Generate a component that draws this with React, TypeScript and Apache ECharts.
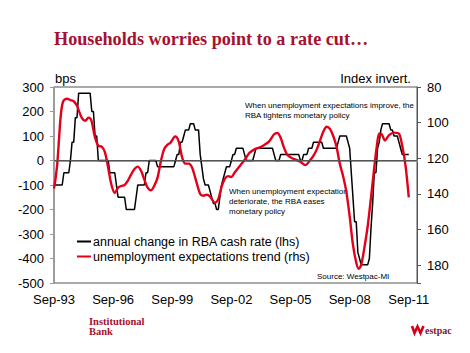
import React, { useEffect, useRef } from 'react';
import * as echarts from 'echarts';

// x = months since Sep-1993
const X_TICK_LABELS = ['Sep-93', 'Sep-96', 'Sep-99', 'Sep-02', 'Sep-05', 'Sep-08', 'Sep-11'];
const LEFT_TICKS = [-500, -400, -300, -200, -100, 0, 100, 200, 300];
const RIGHT_TICKS = [80, 100, 120, 140, 160, 180];

// annual change in RBA cash rate (bps), monthly from Sep-93 to Sep-11
const RBA_CHANGE = [
  -100, -100, -100, -100, -100, -100, -50, -50, -50, -50, 0, 75, 75, 175, 175, 275,
  275, 275, 275, 275, 275, 275, 275, 200, 200, 100, 100, 0, 0, 0, 0, 0,
  0, 0, -50, -50, -50, -50, -100, -150, -150, -150, -150, -150, -200, -200, -200, -200,
  -200, -200, -150, -100, -100, -100, -100, -100, -50, -50, 0, 0, 0, 0,
  0, -25, -25, -25, -25, -25, -25, -25, -25, -25, -25, -25, 0, 25, 25, 75,
  75, 100, 125, 125, 125, 150, 150, 150, 125, 125, 125, 25, -25, -75, -100, -100,
  -100, -125, -150, -175, -175, -200, -200, -150, -100, -75, -50, -25, -25, -25, 0, 25,
  25, 50, 50, 50, 50, 50, 25, 0, 0, 0, 0, 0, 25, 50, 50, 50,
  50, 50, 50, 50, 50, 50, 50, 50, 25, 0, 0, 0, 25, 25, 25, 25,
  25, 25, 25, 25, 25, 25, 25, 25, 0, 0, 25, 25, 25, 50, 50, 50,
  75, 75, 75, 75, 75, 75, 50, 50, 50, 50, 50, 50, 50, 50, 50, 75,
  100, 100, 100, 100, 100, 75, 50, -50, -150, -250, -250, -375, -400, -425, -425, -425,
  -425, -425, -400, -275, -175, -50, -50, 50, 75, 125, 150, 150, 150, 150, 150, 125,
  125, 100, 100, 100, 75, 50, 25, 25, 25, 25, 25,
];

// unemployment expectations trend (index, rhs inverted): [month since Sep-93, value]
const UNEMP_TREND: [number, number][] = [
  [0, 137], [1, 131], [2, 123], [3, 110], [4, 97], [5, 90], [6, 87.5], [8, 86.6], [10, 87.3],
  [12, 88], [14, 90.5], [15, 93], [17, 97.5], [19, 99], [21, 97.2], [22, 97.6], [23, 99.5],
  [25, 108.5], [27, 113], [29, 113.5], [31, 116.5], [33, 125.5], [35, 135], [37, 139.5],
  [39, 136.5], [41, 135.5], [43, 135], [45, 132.5], [47, 129], [49, 126], [51, 124.7],
  [53, 127], [55, 132], [57, 136.5], [59, 138], [61, 135.5], [63, 131], [65, 122], [67, 115],
  [69, 112.5], [71, 111.2], [73, 108.3], [74, 107.8], [76, 110.8], [78, 119.5], [80, 123],
  [82, 123], [84, 125], [86, 131], [89, 140], [91, 141], [93, 140.5], [95, 141.5], [98, 145],
  [100, 143], [102, 136], [104, 131.5], [106, 130], [108, 130.5], [110, 128], [113, 124.5],
  [116, 121], [119, 117], [122, 115], [125, 114], [128, 112.5], [131, 110.5], [134, 106.5],
  [136, 105.8], [138, 108.5], [140, 114], [142, 118], [145, 120], [148, 121], [150, 122],
  [153, 123.8], [156, 121], [158, 118.5], [160, 115], [162, 110], [164, 105], [166, 102.3],
  [168, 103.5], [170, 107.5], [172, 113.5], [174, 123], [176, 130], [178, 139], [180, 152.5],
  [182, 168.5], [184, 178.5], [185.5, 182], [187, 180], [189, 170], [191, 158], [193, 142],
  [195, 125], [196.5, 113.5], [198, 106], [199.5, 106.5], [201.5, 110], [204, 107],
  [207, 105.6], [210, 106.2], [212, 113], [214, 124], [216, 142],
];

const SANS = '"Liberation Sans", Arial, sans-serif';
const SERIF = '"Liberation Serif", "Times New Roman", serif';
const DARK_RED = '#A5112F';

export default function App() {
  const ref = useRef<HTMLDivElement>(null);
  useEffect(() => {
    document.body.style.margin = '0';
    const chart = echarts.init(ref.current!, null, { renderer: 'svg' });
    const option: any = {
      animation: false,
      backgroundColor: '#fff',
      title: {
        text: 'Households worries point to a rate cut…',
        left: 54,
        top: 30,
        padding: 0,
        textStyle: { fontFamily: SERIF, fontWeight: 'bold', fontSize: 18.2, color: DARK_RED },
      },
      grid: {
        left: 54, right: 53, top: 87, bottom: 70,
        show: true, borderColor: '#555', borderWidth: 1,
      },
      legend: {
        orient: 'vertical',
        left: 77,
        top: 235,
        itemWidth: 14,
        itemHeight: 2,
        itemGap: 2,
        icon: 'rect',
        padding: 0,
        textStyle: { fontFamily: SANS, fontSize: 12.5, color: '#000', padding: [0, 0, 0, -3] },
        data: ['annual change in RBA cash rate (lhs)', 'unemployment expectations trend (rhs)'],
      },
      xAxis: {
        type: 'value',
        min: 0,
        max: 221,
        interval: 36,
        axisLine: { show: true, lineStyle: { color: '#999', width: 2 } },
        axisTick: { show: false },
        splitLine: { show: false },
        axisLabel: {
          margin: 10,
          fontFamily: SANS, fontSize: 13, color: '#000',
          formatter: (v: number) => (v % 36 === 0 ? X_TICK_LABELS[v / 36] ?? '' : ''),
        },
      },
      yAxis: [
        {
          type: 'value', position: 'left', min: LEFT_TICKS[0], max: LEFT_TICKS[LEFT_TICKS.length - 1], interval: 100,
          axisLine: { show: true, lineStyle: { color: '#999', width: 1.5 } },
          axisTick: { show: true, length: 4, lineStyle: { color: '#999' } },
          splitLine: { show: false },
          axisLabel: { margin: 10, fontFamily: SANS, fontSize: 13, color: '#000' },
        },
        {
          type: 'value', position: 'right', inverse: true, min: 80, max: 190, interval: 20,
          axisLine: { show: true, lineStyle: { color: '#555', width: 1 } },
          axisTick: { show: true, length: 4, lineStyle: { color: '#555' } },
          splitLine: { show: false },
          axisLabel: {
            margin: 10, fontFamily: SANS, fontSize: 13, color: '#000',
            formatter: (v: number) => (RIGHT_TICKS.includes(v) ? String(v) : ''),
          },
        },
      ],
      series: [
        {
          name: 'annual change in RBA cash rate (lhs)',
          type: 'line',
          yAxisIndex: 0,
          data: RBA_CHANGE.map((v, i) => [i, v]),
          symbol: 'none',
          lineStyle: { color: '#000', width: 1.5 },
          itemStyle: { color: '#000' },
          z: 3,
          markLine: {
            silent: true,
            symbol: 'none',
            label: { show: false },
            lineStyle: { color: '#555', width: 1, type: 'solid' },
            data: [{ yAxis: 0 }],
          },
        },
        {
          name: 'unemployment expectations trend (rhs)',
          type: 'line',
          yAxisIndex: 1,
          data: UNEMP_TREND,
          smooth: 0.3,
          symbol: 'none',
          lineStyle: { color: '#E3001B', width: 2.4 },
          itemStyle: { color: '#E3001B' },
          z: 4,
        },
      ],
      graphic: [
        { type: 'text', x: 55, y: 78, style: { text: 'bps', font: `13px ${SANS}`, fill: '#000', textVerticalAlign: 'middle' } },
        { type: 'text', x: 411, y: 78, style: { text: 'Index invert.', font: `13px ${SANS}`, fill: '#000', textAlign: 'right', textVerticalAlign: 'middle' } },
        {
          type: 'text', x: 245, y: 100,
          style: { text: 'When unemployment expectations improve, the\nRBA tightens monetary policy', font: `8px ${SANS}`, lineHeight: 10, fill: '#000', textVerticalAlign: 'top' },
        },
        {
          type: 'text', x: 229, y: 186,
          style: { text: 'When unemployment expectation\ndeteriorate, the RBA eases\nmonetary policy', font: `8px ${SANS}`, lineHeight: 10, fill: '#000', textVerticalAlign: 'top' },
        },
        { type: 'text', x: 317, y: 276, style: { text: 'Source: Westpac-MI', font: `8px ${SANS}`, fill: '#000', textVerticalAlign: 'middle' } },
        {
          type: 'text', x: 89, y: 316,
          style: { text: 'Institutional\nBank', font: `bold 10.5px ${SERIF}`, lineHeight: 10, fill: DARK_RED, textVerticalAlign: 'top' },
        },
        {
          type: 'polyline',
          shape: { points: [[412, 326], [414.5, 333], [417.5, 326.5], [420.5, 333], [423.5, 326]] },
          style: { stroke: '#D6001C', lineWidth: 2.6, fill: null, lineJoin: 'miter' },
        },
        { type: 'text', x: 425, y: 330, style: { text: 'estpac', font: `bold 10px ${SERIF}`, fill: '#7A1830', textVerticalAlign: 'middle' } },
      ],
    };
    chart.setOption(option);
    return () => chart.dispose();
  }, []);
  return <div ref={ref} style={{ width: 470, height: 353 }} />;
}
